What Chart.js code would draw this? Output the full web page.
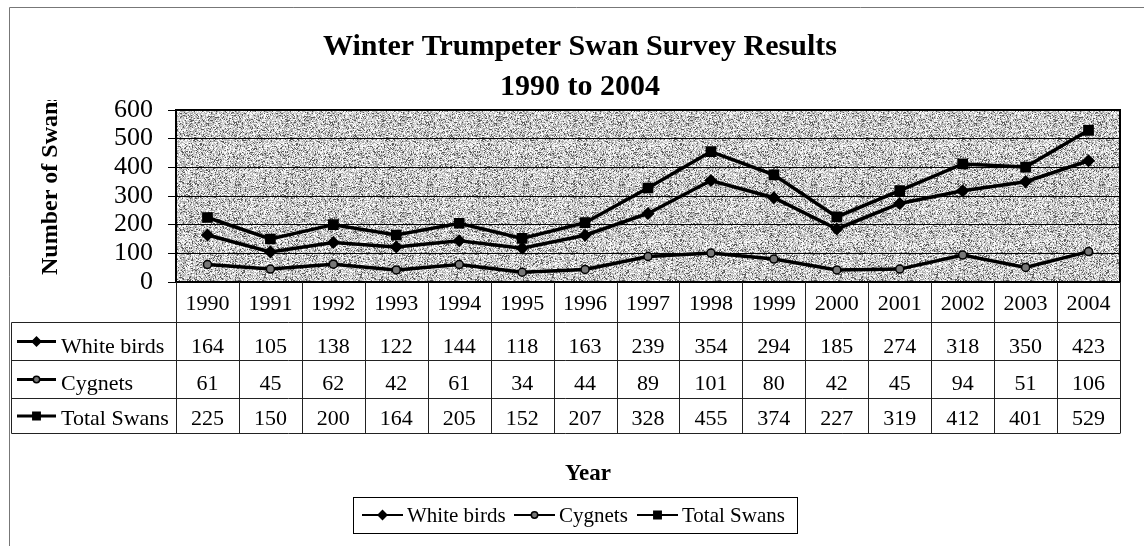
<!DOCTYPE html>
<html>
<head>
<meta charset="utf-8">
<script src="https://cdn.jsdelivr.net/npm/chart.js@4.4.1/dist/chart.umd.min.js"></script>
<style>
  html, body { margin: 0; padding: 0; background: #fff; }
  #wrap { width: 1144px; height: 546px; }
</style>
</head>
<body>
<div id="wrap"><canvas id="swans" width="1144" height="546"></canvas></div>
<script>
// survey data
const years = ['1990', '1991', '1992', '1993', '1994', '1995', '1996', '1997',
               '1998', '1999', '2000', '2001', '2002', '2003', '2004'];
const whiteBirds = [164, 105, 138, 122, 144, 118, 163, 239, 354, 294, 185, 274, 318, 350, 423];
const cygnets    = [61, 45, 62, 42, 61, 34, 44, 89, 101, 80, 42, 45, 94, 51, 106];
const totalSwans = [225, 150, 200, 164, 205, 152, 207, 328, 455, 374, 227, 319, 412, 401, 529];
const yTicks = [0, 100, 200, 300, 400, 500, 600];

const serif = '"Liberation Serif", "Times New Roman", serif';

// grey speckled fill like the old printout (fixed hash, no randomness)
function makeDither() {
    const n = 96;
    const c = document.createElement('canvas');
    c.width = n; c.height = n;
    const g = c.getContext('2d');
    const img = g.createImageData(n, n);
    for (let i = 0; i < n * n; i++) {
        let h = Math.imul(i + 1, 2654435761) >>> 0;
        h ^= h >>> 13;
        h = Math.imul(h, 0x5bd1e995) >>> 0;
        h ^= h >>> 15;
        const r = h & 255;
        const v = r < 35 ? 90 : r < 110 ? 170 : r < 190 ? 212 : 250;
        img.data[i * 4] = v;
        img.data[i * 4 + 1] = v;
        img.data[i * 4 + 2] = v;
        img.data[i * 4 + 3] = 255;
    }
    g.putImageData(img, 0, 0);
    return c;
}

const series = [
    { label: 'White birds', data: whiteBirds, pointStyle: 'rectRot', radius: 5.5, fill: '#000' },
    { label: 'Cygnets', data: cygnets, pointStyle: 'circle', radius: 4, fill: '#777' },
    { label: 'Total Swans', data: totalSwans, pointStyle: 'rect', radius: 6.5, fill: '#000' },
];

function drawKey(ctx, s, x0, x1, y, lw) {
    ctx.save();
    ctx.strokeStyle = '#000';
    ctx.lineWidth = lw;
    ctx.beginPath();
    ctx.moveTo(x0, y);
    ctx.lineTo(x1, y);
    ctx.stroke();
    ctx.fillStyle = s.fill;
    ctx.lineWidth = 1.5;
    Chart.helpers.drawPoint(ctx, { pointStyle: s.pointStyle, radius: s.radius * 0.8, rotation: 0, borderWidth: 1.5 },
        (x0 + x1) / 2, y);
    ctx.restore();
}

const swanPlugin = {
    id: 'swanPlugin',
    beforeDraw(chart) {
        const { ctx, chartArea: a } = chart;
        ctx.save();
        ctx.fillStyle = ctx.createPattern(makeDither(), 'repeat');
        ctx.fillRect(a.left, a.top, a.right - a.left, a.bottom - a.top);
        ctx.restore();
    },
    afterDraw(chart) {
        const { ctx, chartArea: a } = chart;
        const xs = chart.scales.x;
        const colW = (a.right - a.left) / years.length;
        ctx.save();

        // outer frame (top and left edges visible)
        ctx.strokeStyle = '#777';
        ctx.lineWidth = 1;
        ctx.beginPath();
        ctx.moveTo(9.5, 546);
        ctx.lineTo(9.5, 7.5);
        ctx.lineTo(1144, 7.5);
        ctx.stroke();

        // plot border
        ctx.strokeStyle = '#000';
        ctx.lineWidth = 2;
        ctx.strokeRect(a.left, a.top, a.right - a.left, a.bottom - a.top);

        // title
        ctx.fillStyle = '#000';
        ctx.textAlign = 'center';
        ctx.textBaseline = 'alphabetic';
        ctx.font = 'bold 30px ' + serif;
        ctx.fillText('Winter Trumpeter Swan Survey Results', 580, 55);
        ctx.fillText('1990 to 2004', 580, 95);

        // y axis title, clipped at the top like the original
        ctx.save();
        ctx.beginPath();
        ctx.rect(20, 100, 60, 200);
        ctx.clip();
        ctx.translate(57, 275);
        ctx.rotate(-Math.PI / 2);
        ctx.textAlign = 'left';
        ctx.font = 'bold 24px ' + serif;
        ctx.fillText('Number of Swans', 0, 0);
        ctx.restore();

        // data table
        const rowLines = [a.bottom, 322.5, 360.5, 398.5, 433.5];
        const tableLeft = 11.5;
        ctx.strokeStyle = '#222';
        ctx.lineWidth = 1;
        ctx.beginPath();
        for (let r = 1; r < rowLines.length; r++) {
            ctx.moveTo(tableLeft, rowLines[r]);
            ctx.lineTo(a.right, rowLines[r]);
        }
        ctx.moveTo(tableLeft, rowLines[1]);
        ctx.lineTo(tableLeft, rowLines[4]);
        for (let i = 0; i <= years.length; i++) {
            const x = Math.round(a.left + i * colW) + 0.5;
            ctx.moveTo(x, a.bottom);
            ctx.lineTo(x, rowLines[4]);
        }
        ctx.stroke();

        ctx.textAlign = 'center';
        ctx.font = '22px ' + serif;
        years.forEach((yr, i) => {
            ctx.fillText(yr, xs.getPixelForValue(i), 310);
        });
        const baselines = [353, 390, 425];
        series.forEach((s, r) => {
            const cy = (rowLines[r + 1] + rowLines[r + 2]) / 2;
            drawKey(ctx, s, 17, 56, cy, 3);
            ctx.textAlign = 'left';
            ctx.fillText(s.label, 61, baselines[r]);
            ctx.textAlign = 'center';
            s.data.forEach((v, i) => {
                ctx.fillText(String(v), xs.getPixelForValue(i), baselines[r]);
            });
        });

        // x axis title
        ctx.font = 'bold 23px ' + serif;
        ctx.fillText('Year', 588, 480);

        // legend box
        ctx.strokeStyle = '#000';
        ctx.lineWidth = 1;
        ctx.strokeRect(353.5, 497.5, 444, 36);
        const legendItems = [
            { x0: 362, x1: 403, tx: 407 },
            { x0: 514, x1: 555, tx: 559 },
            { x0: 637, x1: 678, tx: 682 },
        ];
        ctx.font = '21px ' + serif;
        ctx.textAlign = 'left';
        series.forEach((s, k) => {
            const it = legendItems[k];
            drawKey(ctx, s, it.x0, it.x1, 515, 2);
            ctx.fillText(s.label, it.tx, 522);
        });
        ctx.restore();
    }
};

new Chart(document.getElementById('swans'), {
    type: 'line',
    data: {
        labels: years,
        datasets: series.map(s => ({
            label: s.label,
            data: s.data,
            borderColor: '#000',
            borderWidth: 3.5,
            pointStyle: s.pointStyle,
            pointRadius: s.radius,
            pointBackgroundColor: s.fill,
            pointBorderColor: '#000',
            pointBorderWidth: 1.5,
            tension: 0,
            fill: false,
        })),
    },
    options: {
        responsive: false,
        animation: false,
        devicePixelRatio: 1,
        layout: { padding: { left: 0, right: 24, top: 110, bottom: 264 } },
        plugins: {
            legend: { display: false },
            title: { display: false },
            tooltip: { enabled: false },
        },
        scales: {
            x: {
                type: 'category',
                offset: true,
                display: false,
            },
            y: {
                min: yTicks[0],
                max: yTicks[yTicks.length - 1],
                afterFit: (scale) => { scale.width = 176; },
                afterBuildTicks: (scale) => { scale.ticks = yTicks.map(v => ({ value: v })); },
                ticks: {
                    color: '#000',
                    padding: 15,
                    autoSkip: false,
                    font: { family: serif, size: 26 },
                },
                grid: { color: '#000', lineWidth: 1, tickLength: 8, drawTicks: true },
                border: { display: true, color: '#000', width: 2 },
            },
        },
    },
    plugins: [swanPlugin],
});
</script>
</body>
</html>
